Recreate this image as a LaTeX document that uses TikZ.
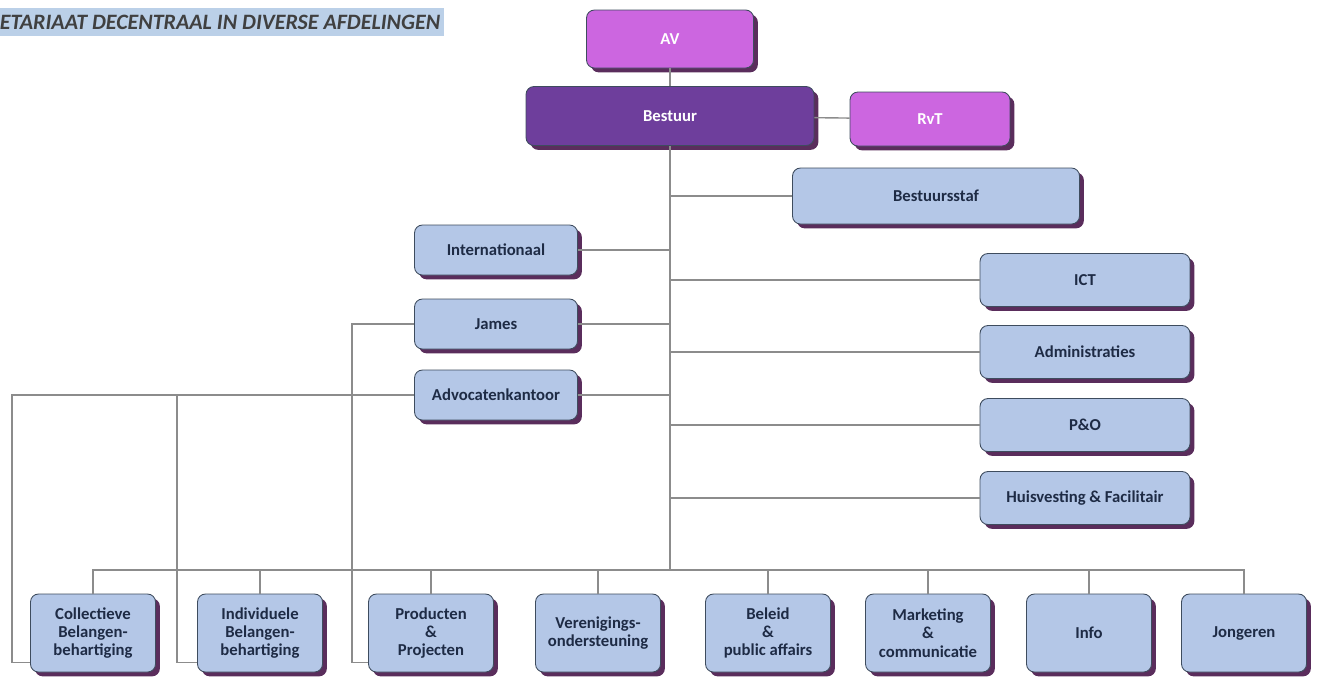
\documentclass[tikz,border=0pt]{standalone}
\usepackage{fontspec}
\setmainfont{Carlito}
\usetikzlibrary{shadows}
\definecolor{unitblue}{HTML}{B4C7E7}
\definecolor{unitline}{HTML}{3E4C5E}
\definecolor{shadowpurple}{HTML}{5A2D5C}
\definecolor{orchid}{HTML}{CC66E0}
\definecolor{bestuurpurple}{HTML}{6E3E9C}
\definecolor{textnavy}{HTML}{1E2B45}
\definecolor{linkgrey}{HTML}{8C8C8C}
\definecolor{headerblue}{HTML}{BBD0E8}
\begin{document}
\begin{tikzpicture}[x=0.02cm,y=-0.02cm,
  box/.style={draw=unitline,line width=0.5pt,rounded corners=4.5pt,align=center,inner sep=1pt,
    font=\fontsize{9.5}{10.4}\selectfont\bfseries,
    drop shadow={shadow xshift=2.5pt,shadow yshift=-2.5pt,fill=shadowpurple,opacity=1}},
  unit/.style={box,fill=unitblue,text=textnavy},
  board/.style={box,fill=orchid,text=white},
  sidebox/.style={unit,minimum width=3.26cm,minimum height=1cm},
  staffbox/.style={unit,minimum width=4.2cm,minimum height=1.06cm},
  basebox/.style={unit,minimum width=2.5cm,minimum height=1.56cm},
  link/.style={draw=linkgrey,line width=0.8pt}]
\useasboundingbox (0,0) rectangle (1321,677);
% Draw the header strip
\node[anchor=west,fill=headerblue,text=black!75,minimum height=0.56cm,inner xsep=2pt,
  font=\fontsize{12.5}{14}\selectfont\bfseries\itshape] (header) at (-4,22) {ETARIAAT DECENTRAAL IN DIVERSE AFDELINGEN};
% Draw the top of the organisation
\node[board,minimum width=3.34cm,minimum height=1.16cm] (AV) at (670,39) {AV};
\node[box,fill=bestuurpurple,text=white,minimum width=5.76cm,minimum height=1.18cm] (Bestuur) at (670,116) {Bestuur};
\node[board,minimum width=3.2cm,minimum height=1.08cm] (RvT) at (930,119) {RvT};
\node[unit,minimum width=5.74cm,minimum height=1.12cm] (Bestuursstaf) at (936,196) {Bestuursstaf};
% Draw the staff units on the left
\node[sidebox] (Internationaal) at (496,250) {Internationaal};
\node[sidebox] (James) at (496,324) {James};
\node[sidebox] (Advocatenkantoor) at (496,395) {Advocatenkantoor};
% Draw the staff units on the right
\node[staffbox] (ICT) at (1085,280) {ICT};
\node[staffbox] (Administraties) at (1085,352) {Administraties};
\node[staffbox] (PO) at (1085,425) {P\&O};
\node[staffbox] (Huisvesting) at (1085,498) {Huisvesting \& Facilitair};
% Draw the departments along the bottom
\node[basebox] (Collectieve) at (93,633) {Collectieve\\Belangen-\\behartiging};
\node[basebox] (Individuele) at (260,633) {Individuele\\Belangen-\\behartiging};
\node[basebox] (Producten) at (431,633) {Producten\\\&\\Projecten};
\node[basebox] (Verenigings) at (598,633) {Verenigings-\\ondersteuning};
\node[basebox] (Beleid) at (768,633) {Beleid\\\&\\public affairs};
\node[basebox] (Marketing) at (928,633) {Marketing\\\&\\communicatie};
\node[basebox] (Info) at (1089,633) {Info};
\node[basebox] (Jongeren) at (1244,633) {Jongeren};
\coordinate (bus) at (670,570);
% Draw the connectors on the trunk
\draw[link] (AV) -- (Bestuur);
\draw[link] (Bestuur) -- (RvT);
\draw[link] (Bestuur.south) -- (bus);
\draw[link] (Bestuursstaf.west) -- (Bestuursstaf.west -| bus);
\foreach \n in {Internationaal,James,Advocatenkantoor}
  \draw[link] (\n.east) -- (\n.east -| bus);
\foreach \n in {ICT,Administraties,PO,Huisvesting}
  \draw[link] (\n.west) -- (\n.west -| bus);
% Draw the bus to the departments
\foreach \n in {Collectieve,Individuele,Producten,Verenigings,Beleid,Marketing,Info,Jongeren}
  \draw[link] (\n.north) |- (bus);
% Draw the side links from James and Advocatenkantoor
\draw[link] (James.west) -- (352,324) |- (Producten.205);
\draw[link] (Advocatenkantoor.west) -- (12,395) |- (Collectieve.205);
\draw[link] (177,395) |- (Individuele.205);
\end{tikzpicture}
\end{document}
